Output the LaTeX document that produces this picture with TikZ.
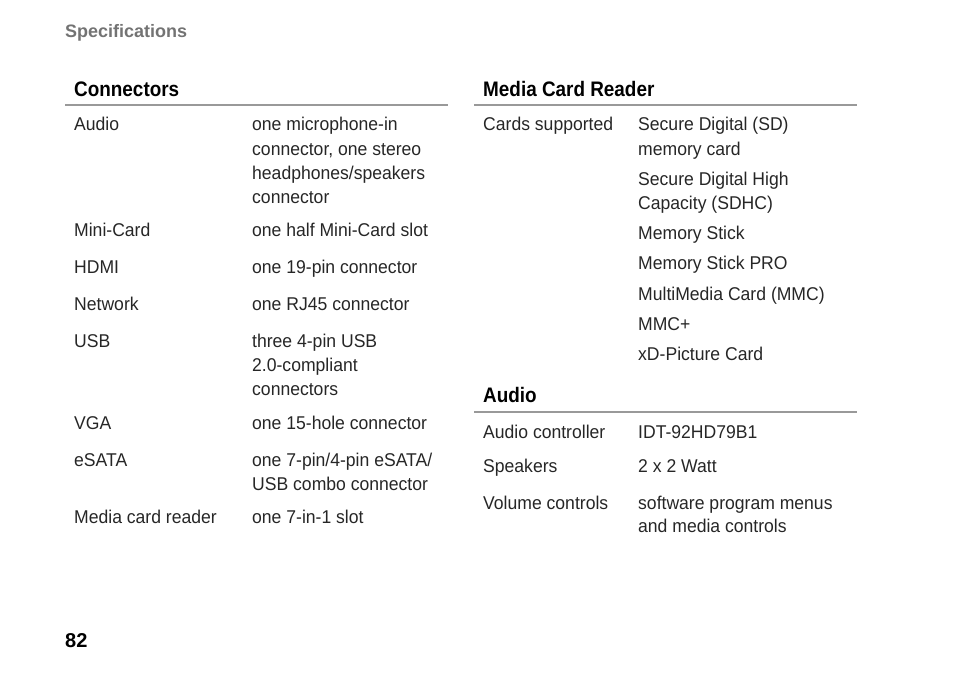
\documentclass[tikz,border=0pt]{standalone}
\usepackage{fontspec}
\setmainfont{Liberation Sans}
\newfontfamily\bodyfont[FakeStretch=0.95]{Liberation Sans}
\newfontfamily\headfont[FakeStretch=0.9]{Liberation Sans}
\begin{document}
\begin{tikzpicture}[x=1pt,y=-1pt,
    cell/.style={anchor=base west,inner sep=0pt,font=\bodyfont\fontsize{18.5}{24}\selectfont,text=black!85},
    head/.style={anchor=base west,inner sep=0pt,font=\headfont\bfseries\fontsize{21}{24}\selectfont},
    rule/.style={draw=black!40,line width=2pt}]
    \useasboundingbox (0,0) rectangle (954,677);
    \node[anchor=base west,inner sep=0pt,font=\bfseries\fontsize{18}{20}\selectfont,text=black!55] (title) at (65,38) {Specifications};
    \node[anchor=base west,inner sep=0pt,font=\bfseries\fontsize{20}{20}\selectfont] (page) at (65,647) {82};

    % left column
    \node[head] (conn) at (74,96) {Connectors};
    \draw[rule] (65,105) -- (448,105);
    \foreach \y/\k/\v in {131/Audio/{one microphone-in},155//{connector, one stereo},179//{headphones/speakers},203//connector,
        236/Mini-Card/{one half Mini-Card slot},273/HDMI/{one 19-pin connector},310/Network/{one RJ45 connector},
        347/USB/{three 4-pin USB},371//{2.0-compliant},395//connectors,429/VGA/{one 15-hole connector},
        466/eSATA/{one 7-pin/4-pin eSATA/},490//{USB combo connector},523/{Media card reader}/{one 7-in-1 slot}}{
        \node[cell] (l\y) at (74,\y) {\k};
        \node[cell] (lv\y) at (252,\y) {\v};
    }

    % right column
    \node[head] (mcr) at (483,96) {Media Card Reader};
    \draw[rule] (474,105) -- (857,105);
    \node[cell] (cards) at (483,131) {Cards supported};
    \foreach \y/\v in {131/{Secure Digital (SD)},155/{memory card},185/{Secure Digital High},209/{Capacity (SDHC)},
        239/{Memory Stick},269/{Memory Stick PRO},300/{MultiMedia Card (MMC)},330/{MMC+},360/{xD-Picture Card}}{
        \node[cell] (rv\y) at (638,\y) {\v};
    }
    \node[head] (aud) at (483,402) {Audio};
    \draw[rule] (474,412) -- (857,412);
    \foreach \y/\k/\v in {438/{Audio controller}/{IDT-92HD79B1},472/Speakers/{2 x 2 Watt},
        509/{Volume controls}/{software program menus},532//{and media controls}}{
        \node[cell] (a\y) at (483,\y) {\k};
        \node[cell] (av\y) at (638,\y) {\v};
    }
\end{tikzpicture}
\end{document}
